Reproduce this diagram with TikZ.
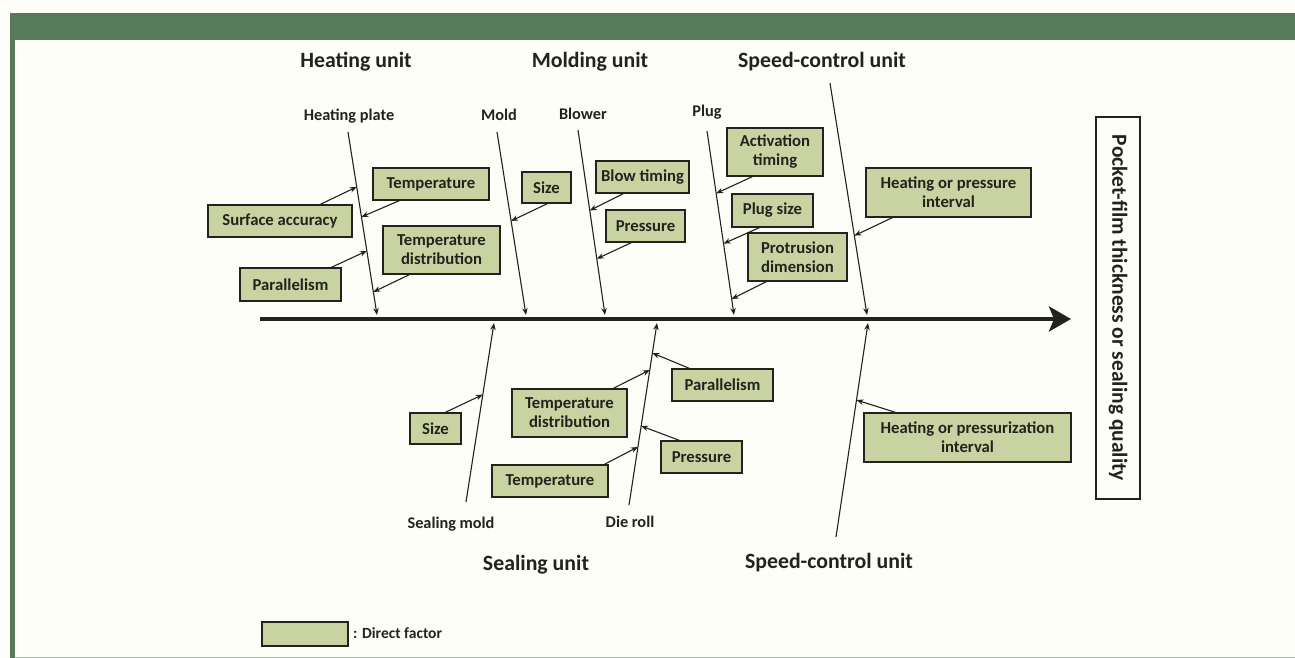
\documentclass[tikz,border=0pt]{standalone}
\usepackage{fontspec}
\setmainfont{Carlito}
\usetikzlibrary{arrows.meta,calc}
\definecolor{band}{RGB}{86,122,90}
\definecolor{fac}{RGB}{201,211,162}
\definecolor{bg}{RGB}{254,254,248}
\definecolor{ink}{RGB}{35,35,30}
\tikzset{
  fbox/.style={draw=ink, line width=1.3pt, fill=fac, text=ink,
    font=\fontsize{16.7}{19}\selectfont\bfseries, align=center, inner sep=0pt},
  bone/.style={draw=ink, line width=1.1pt, -{Stealth[length=7pt,width=5.5pt]}},
  arr/.style={draw=ink, line width=1.1pt, -{Stealth[length=7pt,width=5.5pt]}},
  head/.style={text=ink, font=\fontsize{21.8}{24}\selectfont\bfseries, inner sep=0pt},
  sub/.style={text=ink, font=\fontsize{16.3}{18}\selectfont\bfseries, inner sep=0pt},
}
\begin{document}
\begin{tikzpicture}[x=1pt,y=-1pt]
\useasboundingbox (0,0) rectangle (1295,658);
\fill[bg] (0,0) rectangle (1295,658);
\fill[band] (10,13) rectangle (1295,40);
\fill[band] (10,40) rectangle (15,658);
\draw[band!50, line width=1pt] (15,657) -- (1295,657);

% spine
\coordinate (sp0) at (260,319);
\coordinate (sp1) at (1071,319);
\draw[ink, line width=4.5pt, -{Stealth[length=22pt,width=25pt,inset=5pt]}] (sp0) -- (sp1);

% headings
\node[head] (hU) at (356,62) {Heating unit};
\node[head] (mU) at (590,62) {Molding unit};
\node[head] (sU) at (822,62) {Speed-control unit};
\node[head] (seU) at (536,565) {Sealing unit};
\node[head] (sU2) at (829,563) {Speed-control unit};

% sub labels
\node[sub] (lhp) at (349,116) {Heating plate};
\node[sub] (lmo) at (499,115) {Mold};
\node[sub] (lbl) at (583,114) {Blower};
\node[sub] (lpl) at (707,112) {Plug};
\node[sub] (lsm) at (451,524) {Sealing mold};
\node[sub] (ldr) at (630,522) {Die roll};

% bone end points
\coordinate (hpA) at (348,132); \coordinate (hpB) at (377,315);
\coordinate (moA) at (497,132); \coordinate (moB) at (526,315);
\coordinate (blA) at (578,130); \coordinate (blB) at (605,315);
\coordinate (plA) at (707,131); \coordinate (plB) at (734,315);
\coordinate (scA) at (830,83);  \coordinate (scB) at (867,315);
\coordinate (smA) at (466,502); \coordinate (smB) at (494,323);
\coordinate (drA) at (629,505); \coordinate (drB) at (657,323);
\coordinate (sdA) at (836,537); \coordinate (sdB) at (868,323);

\foreach \a/\b in {hpA/hpB,moA/moB,blA/blB,plA/plB,scA/scB,smA/smB,drA/drB,sdA/sdB}
  \draw[bone] (\a) -- (\b);

% boxes
\node[fbox, minimum width=116, minimum height=32] (hT) at (431,184) {Temperature};
\node[fbox, minimum width=144, minimum height=32] (hS) at (280,221) {Surface accuracy};
\node[fbox, minimum width=117, minimum height=48] (hD) at (441.5,250) {Temperature\\distribution};
\node[fbox, minimum width=101, minimum height=33] (hP) at (290.5,284.5) {Parallelism};
\node[fbox, minimum width=49, minimum height=31] (mS) at (546.5,187.5) {Size};
\node[fbox, minimum width=93, minimum height=32] (bT) at (642.5,177) {Blow timing};
\node[fbox, minimum width=79, minimum height=32] (bP) at (645.5,226) {Pressure};
\node[fbox, minimum width=96, minimum height=48] (pA) at (775,152) {Activation\\timing};
\node[fbox, minimum width=81, minimum height=33] (pS) at (772.5,210.5) {Plug size};
\node[fbox, minimum width=99, minimum height=48] (pD) at (797.5,257) {Protrusion\\dimension};
\node[fbox, minimum width=165, minimum height=49] (sI) at (948.5,192.5) {Heating or pressure\\interval};
\node[fbox, minimum width=51, minimum height=31] (eS) at (435.5,428.5) {Size};
\node[fbox, minimum width=115, minimum height=48] (eD) at (569.5,413) {Temperature\\distribution};
\node[fbox, minimum width=116, minimum height=32] (eT) at (550,481) {Temperature};
\node[fbox, minimum width=101, minimum height=32] (dP) at (722.5,385) {Parallelism};
\node[fbox, minimum width=81, minimum height=32] (dR) at (701.5,457) {Pressure};
\node[fbox, minimum width=207, minimum height=49] (sJ) at (967.5,437.5) {Heating or pressurization\\interval};

% result
\node[draw=ink, line width=1.2pt, fill=bg, minimum width=44, minimum height=382, inner sep=0pt] (res) at (1118,308) {};
\node[rotate=-90, text=ink, font=\fontsize{21.5}{24}\selectfont\bfseries] (rest) at (res.center) {Pocket-film thickness or sealing quality};

% legend
\node[fbox, minimum width=86, minimum height=24] (lg) at (305,634) {};
\node[sub, anchor=west, font=\fontsize{15.5}{18}\selectfont\bfseries] (lgt) at (353,633) {: Direct factor};

% factor arrows
\draw[arr] ([xshift=113]hS.north west) -- ($(hpA)!0.30!(hpB)$);
\draw[arr] ([xshift=27]hT.south west) -- ($(hpA)!0.464!(hpB)$);
\draw[arr] ([xshift=92]hP.north west) -- ($(hpA)!0.65!(hpB)$);
\draw[arr] ([xshift=27]hD.south west) -- ($(hpA)!0.874!(hpB)$);
\draw[arr] ([xshift=26]mS.south west) -- ($(moA)!0.486!(moB)$);
\draw[arr] ([xshift=28]bT.south west) -- ($(blA)!0.435!(blB)$);
\draw[arr] ([xshift=26]bP.south west) -- ($(blA)!0.696!(blB)$);
\draw[arr] ([xshift=26]pA.south west) -- ($(plA)!0.339!(plB)$);
\draw[arr] ([xshift=28]pS.south west) -- ($(plA)!0.612!(plB)$);
\draw[arr] ([xshift=19]pD.south west) -- ($(plA)!0.913!(plB)$);
\draw[arr] ([xshift=27]sI.south west) -- ($(scA)!0.658!(scB)$);
\draw[arr] ([xshift=36]eS.north west) -- ($(smA)!0.6!(smB)$);
\draw[arr] ([xshift=102]eD.north west) -- ($(drA)!0.742!(drB)$);
\draw[arr] ([xshift=113]eT.north west) -- ($(drA)!0.319!(drB)$);
\draw[arr] ([xshift=18]dP.north west) -- ($(drA)!0.835!(drB)$);
\draw[arr] ([xshift=19]dR.north west) -- ($(drA)!0.434!(drB)$);
\draw[arr] ([xshift=32]sJ.north west) -- ($(sdA)!0.64!(sdB)$);
\end{tikzpicture}
\end{document}
